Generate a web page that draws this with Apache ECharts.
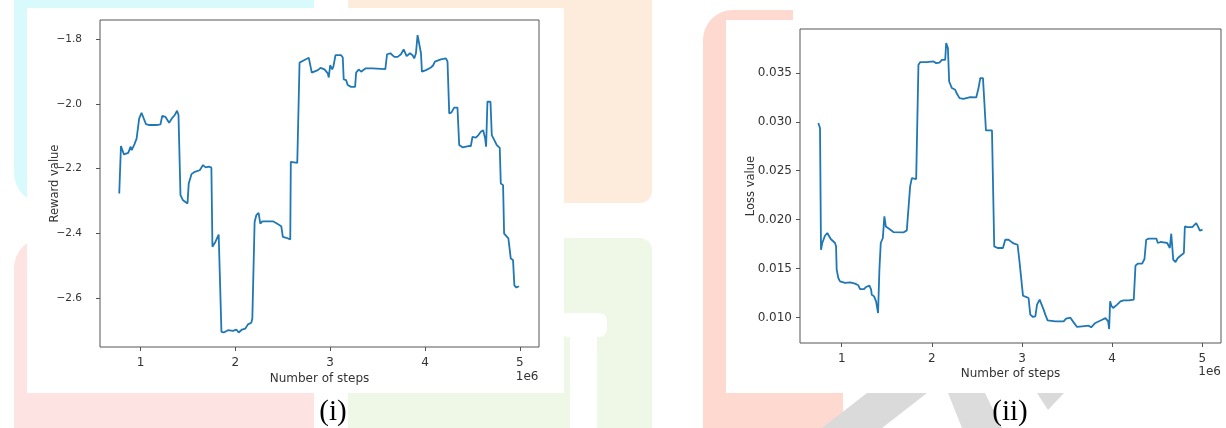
<!DOCTYPE html>
<html>
<head>
<meta charset="utf-8">
<title>Reward and loss over training steps</title>
<script src="https://cdn.jsdelivr.net/npm/echarts@6/dist/echarts.min.js"></script>
<style>
  html, body { margin: 0; padding: 0; background: #ffffff; }
  #chart { width: 1226px; height: 428px; }
</style>
</head>
<body>
<div id="chart"></div>
<script>
// Training curves: reward (i) and loss (ii) against the number of environment steps.
const rewardSteps = [
  775000, 793000, 824000, 870000, 895000, 906000, 936000, 958000, 985000, 1010000,
  1056000, 1094000, 1168000, 1210000, 1228000, 1263000, 1301000, 1337000, 1361000, 1385000,
  1400000, 1421000, 1448000, 1495000, 1508000, 1537000, 1572000, 1624000, 1659000, 1687000,
  1722000, 1747000, 1758000, 1789000, 1824000, 1853000, 1877000, 1922000, 1975000, 2010000,
  2035000, 2070000, 2105000, 2133000, 2168000, 2179000, 2203000, 2221000, 2238000, 2245000,
  2263000, 2284000, 2396000, 2438000, 2484000, 2501000, 2537000, 2579000, 2585000, 2653000,
  2677000, 2729000, 2775000, 2789000, 2806000, 2824000, 2870000, 2898000, 2940000, 2975000,
  2985000, 3000000, 3021000, 3035000, 3056000, 3116000, 3133000, 3143000, 3168000, 3185000,
  3221000, 3263000, 3274000, 3301000, 3326000, 3372000, 3449000, 3582000, 3600000, 3635000,
  3677000, 3712000, 3747000, 3775000, 3793000, 3807000, 3842000, 3869000, 3887000, 3905000,
  3922000, 3943000, 3958000, 3968000, 4011000, 4063000, 4087000, 4105000, 4168000, 4221000,
  4238000, 4256000, 4280000, 4308000, 4343000, 4361000, 4396000, 4459000, 4484000, 4501000,
  4537000, 4564000, 4589000, 4614000, 4635000, 4645000, 4659000, 4691000, 4705000, 4729000,
  4758000, 4789000, 4800000, 4824000, 4835000, 4880000, 4905000, 4929000, 4943000, 4964000,
  4993000
];
const rewardValues = [
  -2.277, -2.130, -2.156, -2.151, -2.132, -2.143, -2.124, -2.107, -2.045, -2.027,
  -2.062, -2.065, -2.065, -2.063, -2.037, -2.040, -2.058, -2.042, -2.034, -2.021,
  -2.034, -2.282, -2.298, -2.308, -2.246, -2.217, -2.210, -2.205, -2.189, -2.196,
  -2.194, -2.197, -2.442, -2.427, -2.404, -2.705, -2.707, -2.700, -2.702, -2.698,
  -2.707, -2.698, -2.695, -2.682, -2.677, -2.664, -2.365, -2.344, -2.344, -2.337,
  -2.370, -2.363, -2.363, -2.370, -2.378, -2.411, -2.414, -2.419, -2.179, -2.182,
  -1.872, -1.864, -1.857, -1.862, -1.903, -1.897, -1.895, -1.888, -1.893, -1.905,
  -1.918, -1.880, -1.893, -1.883, -1.849, -1.849, -1.856, -1.924, -1.926, -1.941,
  -1.947, -1.947, -1.903, -1.893, -1.900, -1.890, -1.890, -1.892, -1.846, -1.843,
  -1.854, -1.854, -1.846, -1.831, -1.831, -1.852, -1.843, -1.849, -1.859, -1.843,
  -1.787, -1.787, -1.843, -1.900, -1.895, -1.887, -1.880, -1.869, -1.862, -1.859,
  -1.869, -2.029, -2.026, -2.011, -2.011, -2.127, -2.134, -2.130, -2.130, -2.102,
  -2.104, -2.096, -2.086, -2.081, -2.107, -2.132, -1.993, -1.993, -2.096, -2.110,
  -2.127, -2.136, -2.246, -2.251, -2.401, -2.416, -2.478, -2.483, -2.561, -2.568,
  -2.564
];

const lossSteps = [
  740000, 759000, 770000, 784000, 814000, 840000, 862000, 878000, 900000, 926000,
  937000, 944000, 962000, 981000, 1037000, 1092000, 1148000, 1184000, 1203000, 1248000,
  1270000, 1307000, 1326000, 1333000, 1359000, 1381000, 1403000, 1418000, 1433000, 1456000,
  1473000, 1489000, 1500000, 1529000, 1573000, 1684000, 1722000, 1740000, 1759000, 1778000,
  1826000, 1851000, 1870000, 1944000, 2018000, 2048000, 2084000, 2111000, 2148000, 2159000,
  2178000, 2192000, 2203000, 2222000, 2259000, 2278000, 2307000, 2351000, 2426000, 2492000,
  2518000, 2537000, 2567000, 2584000, 2600000, 2667000, 2692000, 2729000, 2789000, 2814000,
  2851000, 2889000, 2914000, 2951000, 2970000, 2992000, 3011000, 3044000, 3073000, 3092000,
  3122000, 3148000, 3167000, 3196000, 3214000, 3240000, 3259000, 3284000, 3370000, 3462000,
  3489000, 3537000, 3573000, 3611000, 3667000, 3740000, 3767000, 3784000, 3814000, 3833000,
  3889000, 3926000, 3944000, 3956000, 3967000, 3978000, 3992000, 4011000, 4056000, 4092000,
  4129000, 4184000, 4240000, 4259000, 4284000, 4333000, 4359000, 4378000, 4407000, 4492000,
  4507000, 4537000, 4573000, 4611000, 4629000, 4640000, 4656000, 4667000, 4678000, 4703000,
  4729000, 4759000, 4778000, 4796000, 4807000, 4833000, 4889000, 4907000, 4933000, 4956000,
  4973000, 5003000
];
const lossValues = [
  0.02988, 0.02937, 0.01692, 0.01761, 0.01835, 0.01863, 0.01863, 0.01802, 0.01794, 0.01761,
  0.01726, 0.01488, 0.01403, 0.01368, 0.01352, 0.01358, 0.01345, 0.01328, 0.01290, 0.01290,
  0.01311, 0.01324, 0.01283, 0.01232, 0.01215, 0.01164, 0.01045, 0.01488, 0.01761, 0.01812,
  0.02033, 0.01930, 0.01948, 0.01904, 0.01873, 0.01869, 0.01890, 0.01890, 0.02340, 0.02425,
  0.02415, 0.03584, 0.03611, 0.03611, 0.03618, 0.03601, 0.03607, 0.03635, 0.03635, 0.03806,
  0.03755, 0.03413, 0.03430, 0.03346, 0.03328, 0.03287, 0.03243, 0.03236, 0.03253, 0.03250,
  0.03346, 0.03448, 0.03448, 0.03175, 0.02912, 0.02912, 0.01726, 0.01710, 0.01710, 0.01794,
  0.01794, 0.01767, 0.01754, 0.01743, 0.01590, 0.01583, 0.01222, 0.01209, 0.01198, 0.01028,
  0.01004, 0.01010, 0.01130, 0.01181, 0.01181, 0.01079, 0.01028, 0.00969, 0.00959, 0.00959,
  0.00987, 0.00997, 0.00949, 0.00902, 0.00908, 0.00915, 0.00898, 0.00898, 0.00943, 0.00959,
  0.00976, 0.00993, 0.00993, 0.00959, 0.00881, 0.01164, 0.01120, 0.01096, 0.01130, 0.01164,
  0.01174, 0.01174, 0.01181, 0.01529, 0.01549, 0.01549, 0.01597, 0.01794, 0.01805, 0.01805,
  0.01761, 0.01771, 0.01767, 0.01761, 0.01767, 0.01710, 0.01856, 0.01726, 0.01590, 0.01566,
  0.01607, 0.01631, 0.01641, 0.01658, 0.01930, 0.01924, 0.01924, 0.01930, 0.01965, 0.01924,
  0.01887, 0.01897
];

const stepTicks = [1000000, 2000000, 3000000, 4000000, 5000000];
const rewardTicks = [-2.6, -2.4, -2.2, -2.0, -1.8];
const lossTicks = [0.010, 0.015, 0.020, 0.025, 0.030, 0.035];

const FONT = 'DejaVu Sans';
const TEXT = '#333333';
const FRAME = '#555555';
const LINE = '#1f77b4';

const toPairs = (xs, ys) => xs.map((x, i) => [x, ys[i]]);

function stepAxis(gridIndex, min, max, nameGap) {
  return {
    type: 'value', gridIndex, min, max,
    name: 'Number of steps', nameLocation: 'middle', nameGap, nameMoveOverlap: false,
    nameTextStyle: { fontFamily: FONT, fontSize: 12, color: TEXT },
    splitLine: { show: false },
    axisLine: { show: false },
    axisTick: { show: true, length: 4, customValues: stepTicks,
                lineStyle: { color: FRAME, width: 1 } },
    axisLabel: { customValues: stepTicks, margin: 10,
                 fontFamily: FONT, fontSize: 12, color: TEXT,
                 formatter: v => String(Math.round(v / 1e6)) }
  };
}

function valueAxis(gridIndex, min, max, ticks, name, nameGap, margin, size, fmt) {
  return {
    type: 'value', gridIndex, min, max,
    name, nameLocation: 'middle', nameGap, nameMoveOverlap: false,
    nameTextStyle: { fontFamily: FONT, fontSize: 11.5, color: TEXT },
    splitLine: { show: false },
    axisLine: { show: false },
    axisTick: { show: true, length: 4, customValues: ticks,
                lineStyle: { color: FRAME, width: 1 } },
    axisLabel: { customValues: ticks, margin,
                 fontFamily: FONT, fontSize: size, color: TEXT, formatter: fmt }
  };
}

const minusFmt = v => (v < 0 ? '\u2212' : '') + Math.abs(v).toFixed(1);

// Soft coloured backdrop behind the two white figure panels.
const backdrop = [
  { type: 'rect', shape: { x: 14, y: -30, width: 300, height: 233, r: 30 }, style: { fill: '#d9fafd' } },
  { type: 'rect', shape: { x: 348, y: -30, width: 304, height: 233, r: 12 }, style: { fill: '#fdebdb' } },
  { type: 'rect', shape: { x: 14, y: 238, width: 300, height: 220, r: 30 }, style: { fill: '#fde3e1' } },
  { type: 'rect', shape: { x: 348, y: 238, width: 304, height: 220, r: 12 }, style: { fill: '#eff8e7' } },
  { type: 'rect', shape: { x: 560, y: 313, width: 47, height: 24, r: 8 }, style: { fill: '#ffffff' } },
  { type: 'rect', shape: { x: 570, y: 330, width: 27, height: 110 }, style: { fill: '#ffffff' } },
  { type: 'rect', shape: { x: 703, y: 10, width: 90, height: 440, r: [30, 0, 0, 22] }, style: { fill: '#fdd9d0' } },
  { type: 'rect', shape: { x: 703, y: 380, width: 140, height: 60, r: [0, 0, 0, 22] }, style: { fill: '#fdd9d0' } },
  { type: 'polygon', shape: { points: [[867, 393], [927, 393], [882, 428], [822, 428]] }, style: { fill: '#dadada' } },
  { type: 'polygon', shape: { points: [[948, 393], [985, 393], [1002, 428], [962, 428]] }, style: { fill: '#dcdcdc' } },
  { type: 'polygon', shape: { points: [[1037, 393], [1064, 393], [1048, 410]] }, style: { fill: '#dadada' } },
  { type: 'rect', shape: { x: 27, y: 8, width: 537, height: 385 }, style: { fill: '#ffffff' } },
  { type: 'rect', shape: { x: 726, y: 20, width: 500, height: 373 }, style: { fill: '#ffffff' } }
].map(el => Object.assign({ z: -20, silent: true }, el));

const labels = [
  { type: 'text', x: 538.5, y: 377, style: { text: '1e6', fontFamily: FONT, fontSize: 12, fill: TEXT, align: 'right', verticalAlign: 'middle' } },
  { type: 'text', x: 1221, y: 372, style: { text: '1e6', fontFamily: FONT, fontSize: 12, fill: TEXT, align: 'right', verticalAlign: 'middle' } },
  { type: 'text', x: 333, y: 412, style: { text: '(i)', fontFamily: 'Liberation Serif', fontSize: 29, fill: '#000000', align: 'center', verticalAlign: 'middle' } },
  { type: 'text', x: 1010, y: 412, style: { text: '(ii)', fontFamily: 'Liberation Serif', fontSize: 29, fill: '#000000', align: 'center', verticalAlign: 'middle' } }
].map(el => Object.assign({ z: 50, silent: true }, el));

const chart = echarts.init(document.getElementById('chart'), null, { renderer: 'canvas' });
chart.setOption({
  animation: false,
  backgroundColor: '#ffffff',
  textStyle: { fontFamily: FONT },
  graphic: { elements: backdrop.concat(labels) },
  grid: [
    { left: 100, top: 20, width: 439, height: 327, show: true,
      borderColor: FRAME, borderWidth: 1, backgroundColor: 'transparent' },
    { left: 800, top: 29, width: 421, height: 314, show: true,
      borderColor: FRAME, borderWidth: 1, backgroundColor: 'transparent' }
  ],
  xAxis: [
    stepAxis(0, 572000, 5203000, 26),
    stepAxis(1, 537000, 5208000, 25)
  ],
  yAxis: [
    valueAxis(0, -2.752, -1.740, rewardTicks, 'Reward value', 39, 18, 10.5, minusFmt),
    valueAxis(1, 0.00738, 0.0395, lossTicks, 'Loss value', 43, 8, 12, v => v.toFixed(3))
  ],
  series: [
    { name: 'Reward value', type: 'line', xAxisIndex: 0, yAxisIndex: 0,
      data: toPairs(rewardSteps, rewardValues), showSymbol: false,
      lineStyle: { color: LINE, width: 1.8 }, itemStyle: { color: LINE } },
    { name: 'Loss value', type: 'line', xAxisIndex: 1, yAxisIndex: 1,
      data: toPairs(lossSteps, lossValues), showSymbol: false,
      lineStyle: { color: LINE, width: 1.8 }, itemStyle: { color: LINE } }
  ]
});
</script>
</body>
</html>
